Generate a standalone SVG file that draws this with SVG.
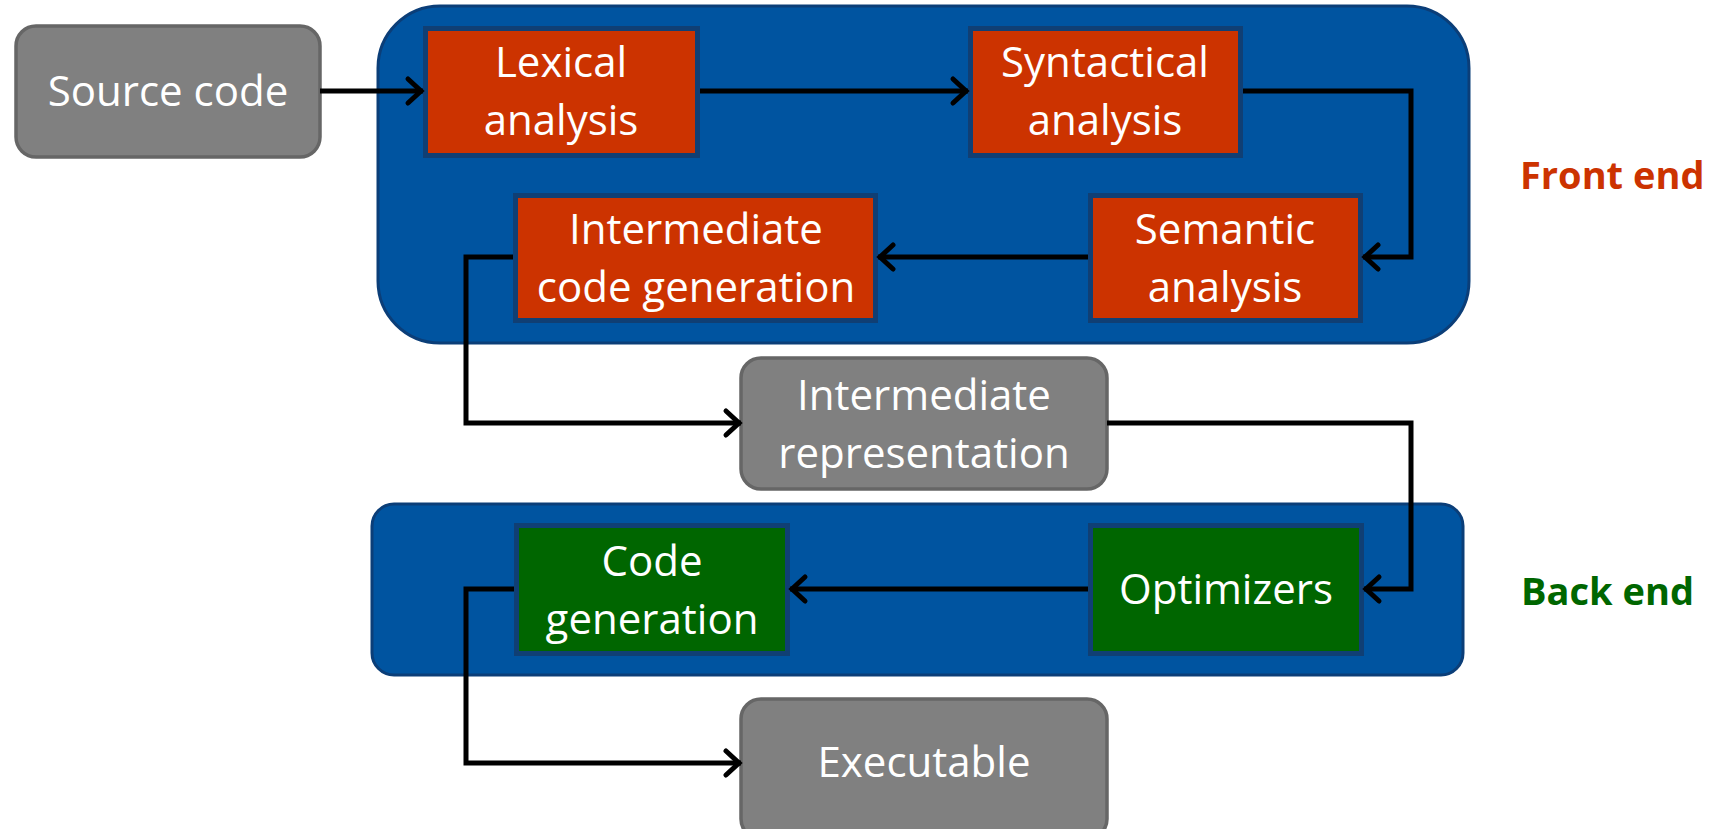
<svg xmlns="http://www.w3.org/2000/svg" width="1714" height="829" viewBox="0 0 1714 829">
<style>
.container{fill:#0054A0;stroke:#0B3E78;stroke-width:3}
.grey{fill:#808080;stroke:#666666;stroke-width:3.5}
.frame{fill:#103F74}
.red{fill:#CC3300}
.green{fill:#006600}
.t{font-family:'Open Sans','Noto Sans','Liberation Sans',sans-serif;font-size:42px;fill:#ffffff;text-anchor:middle}
.lbl{font-family:'Open Sans','Noto Sans','Liberation Sans',sans-serif;font-size:38px;font-weight:bold}
.conn{fill:none;stroke:#000000;stroke-width:5;stroke-linejoin:miter}
</style>
<defs>
<marker id="arr" markerUnits="userSpaceOnUse" markerWidth="26" markerHeight="32" viewBox="0 0 26 32" refX="20" refY="16" orient="auto">
<path d="M5,4 L18,16 L5,28" fill="none" stroke="#000000" stroke-width="5" stroke-linecap="round"/>
</marker>
</defs>
<rect class="container" x="378" y="6" width="1091" height="337" rx="62"/>
<rect class="container" x="372" y="504" width="1091" height="171" rx="22"/>
<g id="source">
<rect class="grey" x="16" y="26" width="304" height="131" rx="20"/>
<text class="t" x="168" y="106">Source code</text>
</g>
<g id="lexical">
<rect class="frame" x="423" y="26" width="277" height="132"/>
<rect class="red" x="428" y="31" width="267" height="122"/>
<text class="t" x="561" y="77">Lexical</text>
<text class="t" x="561" y="135">analysis</text>
</g>
<g id="syntactical">
<rect class="frame" x="968" y="26" width="275" height="132"/>
<rect class="red" x="973" y="31" width="265" height="122"/>
<text class="t" x="1105" y="77">Syntactical</text>
<text class="t" x="1105" y="135">analysis</text>
</g>
<g id="icg">
<rect class="frame" x="513" y="193" width="365" height="130"/>
<rect class="red" x="518" y="198" width="355" height="120"/>
<text class="t" x="696" y="244">Intermediate</text>
<text class="t" x="696" y="302">code generation</text>
</g>
<g id="semantic">
<rect class="frame" x="1088" y="193" width="275" height="130"/>
<rect class="red" x="1093" y="198" width="265" height="120"/>
<text class="t" x="1225" y="244">Semantic</text>
<text class="t" x="1225" y="302">analysis</text>
</g>
<g id="ir">
<rect class="grey" x="741" y="358" width="366" height="131" rx="20"/>
<text class="t" x="924" y="410">Intermediate</text>
<text class="t" x="924" y="468">representation</text>
</g>
<g id="codegen">
<rect class="frame" x="514" y="523" width="276" height="133"/>
<rect class="green" x="519" y="528" width="266" height="123"/>
<text class="t" x="652" y="576">Code</text>
<text class="t" x="652" y="634">generation</text>
</g>
<g id="optimizers">
<rect class="frame" x="1088" y="523" width="276" height="133"/>
<rect class="green" x="1093" y="528" width="266" height="123"/>
<text class="t" x="1226" y="604">Optimizers</text>
</g>
<g id="executable">
<rect class="grey" x="741" y="699" width="366" height="140" rx="20"/>
<text class="t" x="924" y="777">Executable</text>
</g>
<g id="labels">
<text class="lbl" x="1520" y="189" fill="#CC3300">Front end</text>
<text class="lbl" x="1521" y="605" fill="#006600">Back end</text>
</g>
<g id="connectors">
<path class="conn" d="M320,91 H423" marker-end="url(#arr)"/>
<path class="conn" d="M700,91 H968" marker-end="url(#arr)"/>
<path class="conn" d="M1243,91 H1411 V257 H1363" marker-end="url(#arr)"/>
<path class="conn" d="M1088,257 H878" marker-end="url(#arr)"/>
<path class="conn" d="M513,257 H466 V423 H741" marker-end="url(#arr)"/>
<path class="conn" d="M1107,423 H1411 V589 H1364" marker-end="url(#arr)"/>
<path class="conn" d="M1088,589 H790" marker-end="url(#arr)"/>
<path class="conn" d="M514,589 H466 V763 H741" marker-end="url(#arr)"/>
</g>
</svg>
